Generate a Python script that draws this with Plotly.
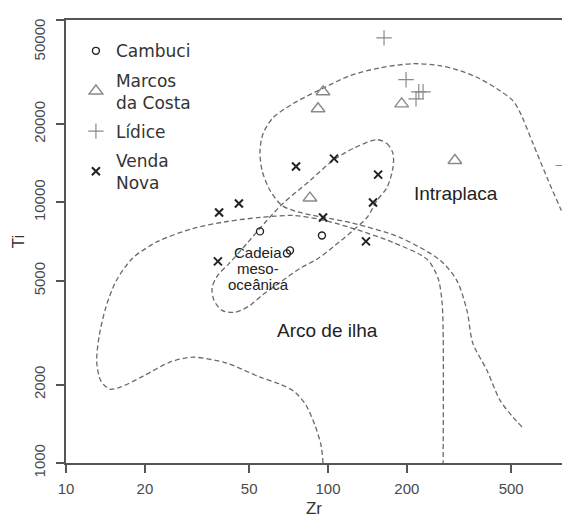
import math
import plotly.graph_objects as go

# ---- sample data (Zr ppm, Ti ppm) ----
cambuci_zr = [55.0, 94.8, 69.7, 71.6]
cambuci_ti = [7745, 7474, 6376, 6547]

marcos_zr = [95.7, 91.6, 191, 305, 85.3]
marcos_ti = [26600, 22900, 23900, 14500, 10400]

lidice_zr = [163.6, 198.5, 222, 230.5, 216.7, 790]
lidice_ti = [42850, 29600, 26600, 26600, 25000, 13870]

venda_zr = [38.4, 45.7, 75.5, 105.4, 155.3, 148.5, 95.7, 139.6, 38.0]
venda_ti = [9156, 9912, 13740, 14740, 12790, 10000, 8760, 7090, 5943]

# ---- field boundaries (Zr, Ti) ----
arc_zr = [95.7, 94.0, 89.1, 82.4, 74.8, 65.6, 55.0, 41.2, 30.5, 24.9, 19.7, 16.1, 14.7,
          13.6, 13.1, 13.4, 14.2, 15.5, 17.9, 22.4, 30.5, 41.2, 55.0, 73.4, 93.2, 121.3,
          177, 239, 263, 272, 275, 275]
arc_ti = [1000, 1172, 1398, 1667, 1871, 2008, 2135, 2415, 2547, 2438, 2154, 1954, 1921,
          2061, 2438, 3090, 3963, 4977, 6095, 7088, 7945, 8453, 8760, 8915, 8610, 8019,
          7025, 6048, 5117, 4212, 3233, 1000]

wpl_zr = [550, 508, 453, 404, 357, 339, 310, 268, 188, 121.3, 78.2, 66.7, 60.1, 56.0,
          55.0, 56.5, 61.7, 73.4, 93.2, 121.3, 158, 211, 268, 319, 380, 453, 508, 541,
          606, 685, 768, 809]
wpl_ti = [1374, 1500, 1742, 2270, 2884, 3855, 5023, 5998, 7345, 8375, 9156, 9739, 11120,
          13270, 15820, 18370, 21170, 23930, 27100, 30670, 32890, 34090, 33500, 32060,
          29850, 26850, 24600, 22130, 16830, 12470, 9570, 8540]

morb_zr = [153.8, 167.9, 177, 177, 167.9, 153.8, 140.9, 124.6, 106.3, 91.6, 78.2, 65.6,
           56.0, 50.4, 44.2, 39.4, 36.7, 36.1, 37.7, 42.3, 49.1, 57.5, 67.3, 85.3, 104.4,
           126.8, 153.8]
morb_ti = [17420, 16830, 15410, 13620, 11420, 10180, 8760, 7810, 6840, 6095, 5584, 4937,
           4403, 4028, 3789, 3855, 4212, 4683, 5206, 5888, 6970, 8375, 9912, 12130, 14490,
           16260, 17420]

x_ticks = [10, 20, 50, 100, 200, 500]
y_ticks = [1000, 2000, 5000, 10000, 20000, 50000]

FONT = "Liberation Sans"
LEG_FONT = "DejaVu Sans"
DASH_COLOR = "#6a6a6a"
TICK_FONT = dict(family=FONT, size=15, color="#4a4a4a")

fig = go.Figure()

for bx, by in [(arc_zr, arc_ti), (wpl_zr, wpl_ti), (morb_zr, morb_ti)]:
    fig.add_trace(go.Scatter(
        x=bx, y=by, mode="lines", showlegend=False, hoverinfo="skip",
        line=dict(color=DASH_COLOR, width=1.3, dash="5px,3px", shape="spline", smoothing=0.8),
    ))

fig.add_trace(go.Scatter(
    x=cambuci_zr, y=cambuci_ti, mode="markers", name="Cambuci", legendgroup="a",
    marker=dict(symbol="circle-open", size=7, color="#222222", line=dict(width=1.4)),
))
fig.add_trace(go.Scatter(
    x=marcos_zr, y=marcos_ti, mode="markers", name="Marcos<br>da Costa", legendgroup="b",
    marker=dict(symbol="triangle-up-open", size=12, color="#8a8a8a", line=dict(width=1.4)),
))
fig.add_trace(go.Scatter(
    x=lidice_zr, y=lidice_ti, mode="markers", name="Lídice", legendgroup="c",
    marker=dict(symbol="cross-thin-open", size=11, color="#8a8a8a", line=dict(width=1.2)),
))
fig.add_trace(go.Scatter(
    x=venda_zr, y=venda_ti, mode="markers", name="Venda<br>Nova", legendgroup="d",
    marker=dict(symbol="x-thin-open", size=8, color="#222222", line=dict(width=2)),
))

annotations = [
    dict(x=math.log10(308), y=math.log10(10830), text="Intraplaca",
         font=dict(family=FONT, size=19, color="#222222")),
    dict(x=math.log10(99.2), y=math.log10(3233), text="Arco de ilha",
         font=dict(family=FONT, size=19, color="#222222")),
]
mor_lines = ["Cadeia", "meso-", "oceânica"]
for i, t in enumerate(mor_lines):
    annotations.append(dict(x=math.log10(54.1), y=math.log10(5584), text=t,
                            yshift=16 - 16 * i,
                            font=dict(family=FONT, size=15, color="#222222")))
for a in annotations:
    a.update(xref="x", yref="y", showarrow=False, xanchor="center", yanchor="middle")

# top tick label sits just below the top frame line, as in the original
annotations.append(dict(
    xref="paper", x=0, xshift=-27, yref="y", y=math.log10(y_ticks[-1]), yshift=-19,
    text=str(y_ticks[-1]), textangle=-90, showarrow=False,
    xanchor="center", yanchor="middle", font=TICK_FONT,
))

axis_common = dict(
    type="log", showline=True, linecolor="#555555", linewidth=1.5,
    ticks="outside", ticklen=8, tickwidth=1.5, tickcolor="#555555",
    showgrid=False, zeroline=False, automargin=False,
    tickfont=TICK_FONT,
    tickmode="array",
)

fig.update_layout(
    width=562, height=518,
    margin=dict(l=66, r=0, t=20, b=55),
    paper_bgcolor="white", plot_bgcolor="white",
    xaxis=dict(axis_common, range=[1, 2.893], mirror=True, tickvals=x_ticks,
               ticktext=[str(v) for v in x_ticks], ticklabelstandoff=3,
               title=dict(text="Zr", font=dict(family=FONT, size=17, color="#333333"), standoff=19)),
    yaxis=dict(axis_common, range=[3, 4.7005], tickvals=y_ticks, tickangle=-90,
               ticktext=[str(v) for v in y_ticks[:-1]] + [""], ticklabelstandoff=5,
               title=dict(text="Ti", font=dict(family=FONT, size=17, color="#333333"), standoff=2)),
    legend=dict(x=0.02, y=0.97, xanchor="left", yanchor="top",
                bgcolor="rgba(0,0,0,0)", font=dict(family=LEG_FONT, size=17, color="#333333"),
                itemwidth=30, valign="middle", traceorder="grouped", tracegroupgap=4),
    annotations=annotations,
    showlegend=True,
)

fig.write_html("out.html")
